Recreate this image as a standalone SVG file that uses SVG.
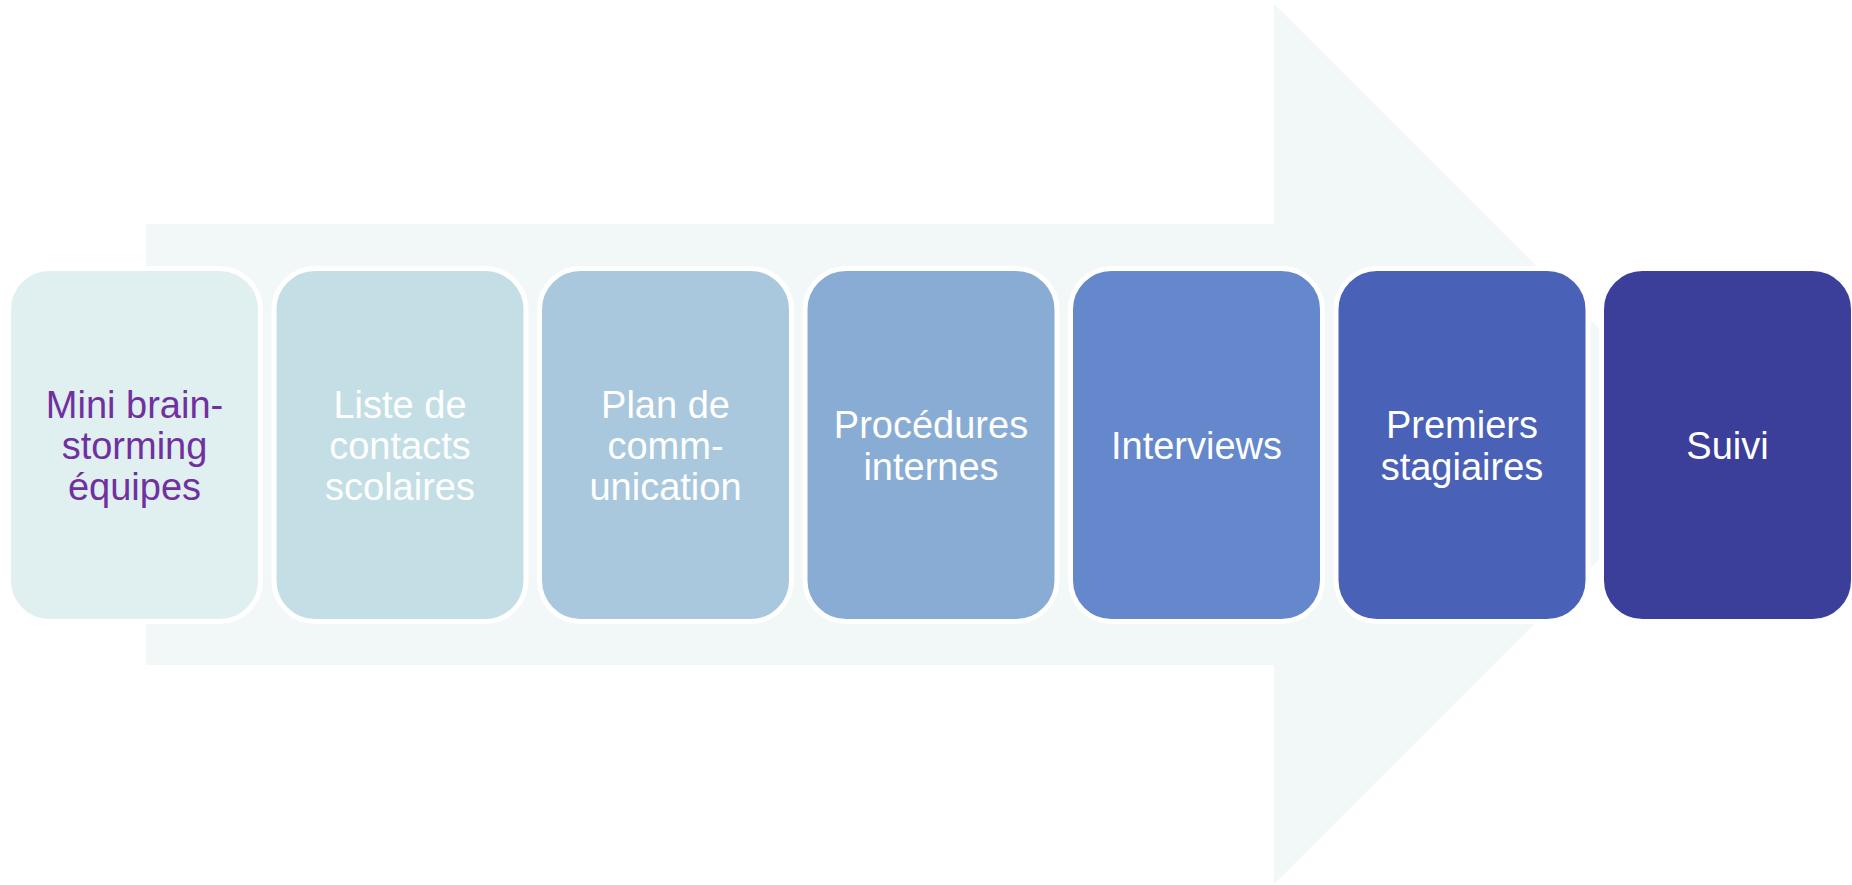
<svg xmlns="http://www.w3.org/2000/svg" width="1852" height="885" viewBox="0 0 1852 885">
<style>
.box{stroke:#ffffff;stroke-width:5}
.t{font-family:"Liberation Sans",Arial,sans-serif;font-size:38px;text-anchor:middle;fill:#ffffff}
.p{fill:#7030a0}
</style>
<rect width="1852" height="885" fill="#ffffff"/>
<g id="arrow">
<polygon points="146,224 1274,224 1274,4 1714,444 1274,884 1274,665 146,665" fill="#f2f7f7"/>
</g>
<g id="connectors"></g>
<g id="n1">
<rect class="box" x="8.5" y="268.5" width="252" height="353" rx="41" fill="#e0eff0"/>
<text class="t p" x="134.5"><tspan x="134.5" y="418">Mini brain-</tspan><tspan x="134.5" y="459">storming</tspan><tspan x="134.5" y="500">équipes</tspan></text>
</g>
<g id="n2">
<rect class="box" x="274" y="268.5" width="252" height="353" rx="41" fill="#c4dee6"/>
<text class="t" x="400"><tspan x="400" y="418">Liste de</tspan><tspan x="400" y="459">contacts</tspan><tspan x="400" y="500">scolaires</tspan></text>
</g>
<g id="n3">
<rect class="box" x="539.5" y="268.5" width="252" height="353" rx="41" fill="#a9c8dd"/>
<text class="t" x="665.5"><tspan x="665.5" y="418">Plan de</tspan><tspan x="665.5" y="459">comm-</tspan><tspan x="665.5" y="500">unication</tspan></text>
</g>
<g id="n4">
<rect class="box" x="805" y="268.5" width="252" height="353" rx="41" fill="#88acd4"/>
<text class="t" x="931"><tspan x="931" y="438">Procédures</tspan><tspan x="931" y="480">internes</tspan></text>
</g>
<g id="n5">
<rect class="box" x="1070.5" y="268.5" width="252" height="353" rx="41" fill="#6488cb"/>
<text class="t" x="1196.5" y="459">Interviews</text>
</g>
<g id="n6">
<rect class="box" x="1336" y="268.5" width="252" height="353" rx="41" fill="#4961b6"/>
<text class="t" x="1462"><tspan x="1462" y="438">Premiers</tspan><tspan x="1462" y="480">stagiaires</tspan></text>
</g>
<g id="n7">
<rect class="box" x="1601.5" y="268.5" width="252" height="353" rx="41" fill="#3b3f99"/>
<text class="t" x="1727.5" y="459">Suivi</text>
</g>
</svg>
